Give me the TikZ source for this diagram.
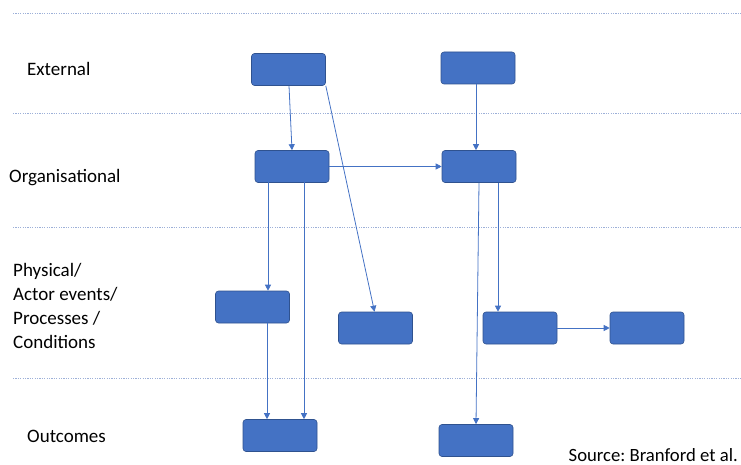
\documentclass[tikz,border=0pt]{standalone}
\usepackage{fontspec}
\setmainfont{Carlito}
\usetikzlibrary{arrows.meta}
\definecolor{boxblue}{HTML}{4472C4}
\definecolor{boxedge}{HTML}{2F528F}
\definecolor{sepline}{HTML}{9DB0D8}
\frenchspacing
\begin{document}
\begin{tikzpicture}[x=1pt,y=-1pt,
  blk/.style={draw=boxedge,line width=0.6pt,fill=boxblue,rounded corners=3pt,
    minimum width=74pt,minimum height=32pt,inner sep=0pt},
  flow/.style={draw=boxblue,line width=0.8pt,-{Triangle[width=6pt,length=6pt]}},
  layer/.style={draw=sepline,line width=0.8pt,dash pattern=on 1.2pt off 1.2pt},
  lbl/.style={anchor=west,font=\fontsize{19}{23.7}\selectfont,align=left,inner sep=0pt}]
\useasboundingbox (0,0) rectangle (741,465);

% layer separators
\foreach \yy/\nm in {13/s1,113/s2,227/s3,378/s4}
  \draw[layer] (13,\yy) coordinate (\nm a) -- (741,\yy) coordinate (\nm b);

% layer labels
\node[lbl] (lext) at (27,69) {External};
\node[lbl] (lorg) at (9,178) {Organisational};
\node[lbl] (lphys) at (13,306) {Physical/\\Actor events/\\Processes /\\Conditions};
\node[lbl] (lout) at (27,436) {Outcomes};
\node[anchor=east,font=\fontsize{18.7}{20}\selectfont,inner sep=0pt] (src) at (738,455) {Source: Branford et al.};

% boxes
\node[blk] (e1) at (288.5,69.5) {};
\node[blk] (e2) at (478,68) {};
\node[blk] (o1) at (292,166.5) {};
\node[blk] (o2) at (479,166.5) {};
\node[blk] (p1) at (252.5,307) {};
\node[blk] (p2) at (375.5,328) {};
\node[blk] (p3) at (520,328) {};
\node[blk] (p4) at (647,328) {};
\node[blk] (u1) at (280,435.5) {};
\node[blk] (u2) at (476,440.5) {};

% connectors
\draw[flow] ([xshift=0.5pt]e1.south) -- ([xshift=0pt]o1.north);
\draw[flow] (e1.south east) -- ([xshift=-1pt]p2.north);
\draw[flow] ([xshift=-2pt]e2.south) -- ([xshift=-3pt]o2.north);
\draw[flow] (o1.east) -- (o2.west);
\draw[flow] ([xshift=-24pt,yshift=7pt]o1.south) -- ([xshift=15.5pt]p1.north);
\draw[flow] ([xshift=12pt,yshift=7pt]o1.south) -- ([xshift=24pt]u1.north);
\draw[flow] ([xshift=14.5pt]p1.south) -- ([xshift=-13pt]u1.north);
\draw[flow] ([xshift=0pt]o2.south) -- ([xshift=0pt]u2.north);
\draw[flow] ([xshift=19pt]o2.south) -- ([xshift=-22pt]p3.north);
\draw[flow] (p3.east) -- (p4.west);
\end{tikzpicture}
\end{document}
